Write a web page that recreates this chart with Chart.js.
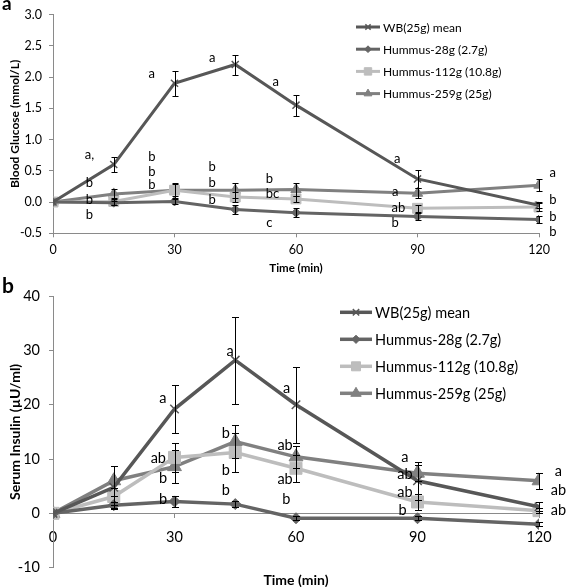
<!DOCTYPE html>
<html>
<head>
<meta charset="utf-8">
<script src="https://cdn.jsdelivr.net/npm/chart.js@4.4.0/dist/chart.umd.min.js"></script>
<style>
  body { margin: 0; background: #fff; }
  #wrap { position: relative; width: 567px; height: 587px; }
  canvas { position: absolute; left: 0; }
  #glucose { top: 0; }
  #insulin { top: 275px; }
</style>
</head>
<body>
<div id="wrap">
  <canvas id="glucose" width="567" height="275"></canvas>
  <canvas id="insulin" width="567" height="312"></canvas>
</div>
<script>
// time points (min)
const times = [0, 15, 30, 45, 60, 90, 120];
const seriesNames = ['WB(25g) mean', 'Hummus-28g (2.7g)', 'Hummus-112g (10.8g)', 'Hummus-259g (25g)'];

// a: blood glucose change (mmol/L)
const wbGlucose    = [0, 0.60, 1.90, 2.20, 1.55, 0.37, -0.05];
const h28Glucose   = [0, -0.01, 0.01, -0.12, -0.17, -0.23, -0.28];
const h112Glucose  = [0, 0.01, 0.19, 0.08, 0.05, -0.10, -0.08];
const h259Glucose  = [0, 0.13, 0.19, 0.19, 0.20, 0.14, 0.27];
const wbGluErr     = [0, 0.12, 0.20, 0.16, 0.17, 0.15, 0.05];
const h28GluErr    = [0, 0.03, 0.04, 0.07, 0.07, 0.06, 0.06];
const h112GluErr   = [0, 0.05, 0.10, 0.08, 0.05, 0.06, 0.07];
const h259GluErr   = [0, 0.08, 0.12, 0.12, 0.10, 0.08, 0.10];

// b: serum insulin change (µU/ml)
const wbInsulin    = [0, 4.8, 19.2, 28.2, 20.0, 6.0, 1.2];
const h28Insulin   = [0, 1.5, 2.2, 1.7, -0.9, -0.9, -2.0];
const h112Insulin  = [0, 3.1, 10.3, 11.2, 8.3, 2.1, 0.5];
const h259Insulin  = [0, 6.0, 8.6, 13.2, 10.4, 7.4, 6.0];
const wbInsErr     = [0, 4.0, 4.5, 8.0, 7.0, 3.5, 0.8];
const h28InsErr    = [0, 0.5, 1.0, 0.5, 0.4, 0.4, 0.4];
const h112InsErr   = [0, 1.5, 2.7, 3.5, 2.5, 1.5, 0.5];
const h259InsErr   = [0, 2.8, 3.0, 3.0, 2.0, 1.5, 1.5];

// significance letters: [time, value, text]
const glucoseLetters = [
  [9, 0.76, 'a,'], [9, 0.30, 'b'], [9, 0.04, 'b'], [9, -0.21, 'b'],
  [24.4, 2.05, 'a'], [24.4, 0.72, 'b'], [24.4, 0.49, 'b'], [24.4, 0.28, 'b'],
  [39.3, 2.30, 'a'], [39.3, 0.57, 'b'], [39.3, 0.30, 'b'], [39.3, 0.04, 'b'],
  [55, 1.92, 'a'], [53.4, 0.37, 'b'], [54.2, 0.13, 'bc'], [53.4, -0.33, 'c'],
  [85, 0.69, 'a'], [84.5, 0.17, 'a'], [85.3, -0.09, 'ab'], [84.5, -0.33, 'b'],
  [123.4, 0.46, 'a'], [123.4, 0.03, 'b'], [123.4, -0.24, 'b'], [123.4, -0.48, 'b']
];
const insulinLetters = [
  [27.1, 21.2, 'a'], [26, 10.1, 'ab'], [27.2, 6.4, 'b'], [27.2, 2.6, 'b'],
  [43.7, 29.8, 'a'], [42.7, 14.7, 'b'], [42.7, 8.0, 'b'], [42.7, 4.3, 'b'],
  [57.7, 23.0, 'a'], [57.3, 12.6, 'ab'], [57.3, 6.3, 'ab'], [57.6, 2.6, 'b'],
  [86.9, 10.3, 'a'], [86.9, 7.2, 'ab'], [86.9, 3.8, 'ab'], [86.3, 0.5, 'b'],
  [124.8, 7.8, 'a'], [124.8, 4.2, 'ab'], [124.8, 0.5, 'ab']
];

const seriesColors = ['#575757', '#646464', '#bdbdbd', '#808080'];
const seriesMarkers = ['crossRot', 'rectRot', 'rect', 'triangle'];
const axisColor = '#8a8a8a';
const fontFamily = 'Lato, "Liberation Sans", sans-serif';

function makeSets(values, errors, radii, lineWidth) {
  return seriesNames.map((name, i) => ({
    label: name,
    data: times.map((t, j) => ({ x: t, y: values[i][j] })),
    errors: errors[i],
    borderColor: seriesColors[i],
    backgroundColor: seriesColors[i],
    pointBackgroundColor: seriesColors[i],
    pointBorderColor: seriesColors[i],
    pointStyle: seriesMarkers[i],
    pointRadius: radii[i],
    pointBorderWidth: i === 0 ? 1.5 : 1,
    borderWidth: lineWidth,
    tension: 0
  }));
}

const errorBars = {
  id: 'errorBars',
  afterDatasetsDraw(chart, args, opts) {
    const { ctx, scales: { x, y } } = chart;
    ctx.save();
    ctx.strokeStyle = '#000';
    ctx.lineWidth = 1;
    chart.data.datasets.forEach(ds => {
      ds.data.forEach((p, j) => {
        const e = ds.errors[j];
        if (!e) return;
        const px = Math.round(x.getPixelForValue(p.x)) + 0.5;
        const top = Math.round(y.getPixelForValue(p.y + e)) + 0.5;
        const bot = Math.round(y.getPixelForValue(p.y - e)) + 0.5;
        ctx.beginPath();
        ctx.moveTo(px, top); ctx.lineTo(px, bot);
        ctx.moveTo(px - opts.cap, top); ctx.lineTo(px + opts.cap, top);
        ctx.moveTo(px - opts.cap, bot); ctx.lineTo(px + opts.cap, bot);
        ctx.stroke();
      });
    });
    ctx.restore();
  }
};

const letters = {
  id: 'letters',
  afterDraw(chart, args, opts) {
    const { ctx, scales: { x, y } } = chart;
    ctx.save();
    ctx.fillStyle = '#000';
    ctx.font = opts.size + 'px ' + fontFamily;
    ctx.textAlign = 'center';
    ctx.textBaseline = 'middle';
    opts.items.forEach(([t, v, s]) => ctx.fillText(s, x.getPixelForValue(t), y.getPixelForValue(v)));
    ctx.restore();
  }
};

const lineLegend = {
  id: 'lineLegend',
  afterDraw(chart, args, opts) {
    const ctx = chart.ctx;
    ctx.save();
    ctx.textBaseline = 'middle';
    ctx.textAlign = 'left';
    chart.data.datasets.forEach((ds, i) => {
      const y = opts.y + i * opts.gap;
      ctx.strokeStyle = ds.borderColor;
      ctx.lineWidth = ds.borderWidth;
      ctx.beginPath();
      ctx.moveTo(opts.x, y);
      ctx.lineTo(opts.x + opts.len, y);
      ctx.stroke();
      ctx.fillStyle = ds.pointBackgroundColor;
      ctx.strokeStyle = ds.pointBorderColor;
      ctx.lineWidth = ds.pointBorderWidth;
      Chart.helpers.drawPoint(ctx, {
        pointStyle: ds.pointStyle, radius: ds.pointRadius * 0.75, borderWidth: ds.pointBorderWidth, rotation: 0
      }, opts.x + opts.len / 2, y);
      ctx.fillStyle = '#000';
      ctx.font = opts.size + 'px ' + fontFamily;
      ctx.fillText(ds.label, opts.x + opts.len + 3, y + 1);
    });
    ctx.restore();
  }
};

const panelText = {
  id: 'panelText',
  afterDraw(chart, args, opts) {
    const { ctx, chartArea } = chart;
    ctx.save();
    ctx.fillStyle = '#000';
    ctx.font = 'bold ' + opts.titleSize + 'px ' + fontFamily;
    ctx.textAlign = 'center';
    ctx.textBaseline = 'middle';
    ctx.fillText(opts.title, (chartArea.left + chartArea.right) / 2, opts.titleY);
    ctx.font = 'bold ' + opts.letterSize + 'px ' + fontFamily;
    ctx.textAlign = 'left';
    ctx.textBaseline = 'alphabetic';
    ctx.fillText(opts.letter, opts.letterX, opts.letterY);
    ctx.restore();
  }
};

function axisGrid() {
  return { display: true, drawOnChartArea: false, drawTicks: true, tickLength: 4, color: axisColor };
}

new Chart(document.getElementById('glucose'), {
  type: 'line',
  data: {
    datasets: makeSets(
      [wbGlucose, h28Glucose, h112Glucose, h259Glucose],
      [wbGluErr, h28GluErr, h112GluErr, h259GluErr],
      [5, 4.5, 7, 6], 3)
  },
  options: {
    responsive: false,
    animation: false,
    events: [],
    layout: { padding: { left: 0, right: 28, top: 13.3, bottom: 0 } },
    scales: {
      x: {
        type: 'linear', min: 0, max: 120,
        afterFit: s => { s.height = 41.7; },
        grid: axisGrid(),
        border: { color: axisColor },
        ticks: { stepSize: 30, padding: 5, color: '#000', font: { family: fontFamily, size: 12.5 } }
      },
      y: {
        min: -0.5, max: 3,
        afterFit: s => { s.width = 53; },
        grid: axisGrid(),
        border: { color: axisColor },
        ticks: { stepSize: 0.5, padding: 7, color: '#000', font: { family: fontFamily, size: 12.5 },
          callback: v => v.toFixed(1) },
        title: { display: true, text: 'Blood Glucose (mmol/L)', color: '#000', padding: { top: 8 },
          font: { family: fontFamily, size: 12, weight: 'bold' } }
      }
    },
    plugins: {
      legend: { display: false },
      tooltip: { enabled: false },
      errorBars: { cap: 3 },
      letters: { items: glucoseLetters, size: 13 },
      lineLegend: { x: 356, y: 27, gap: 22.2, len: 24, size: 12 },
      panelText: { title: 'Time (min)', titleY: 268, titleSize: 11.5, letter: 'a', letterX: 2, letterY: 10, letterSize: 19 }
    }
  },
  plugins: [errorBars, letters, lineLegend, panelText]
});

new Chart(document.getElementById('insulin'), {
  type: 'line',
  data: {
    datasets: makeSets(
      [wbInsulin, h28Insulin, h112Insulin, h259Insulin],
      [wbInsErr, h28InsErr, h112InsErr, h259InsErr],
      [6, 5.5, 8.5, 8], 3.5)
  },
  options: {
    responsive: false,
    animation: false,
    events: [],
    layout: { padding: { left: 0, right: 28, top: 21, bottom: 19.3 } },
    scales: {
      x: {
        type: 'linear', min: 0, max: 120,
        position: { y: 0 },
        grid: axisGrid(),
        border: { color: axisColor },
        ticks: { stepSize: 30, padding: 11, color: '#000', font: { family: fontFamily, size: 14.5 } }
      },
      y: {
        min: -10, max: 40,
        afterFit: s => { s.width = 53; },
        grid: axisGrid(),
        border: { color: axisColor },
        ticks: { stepSize: 10, padding: 9, color: '#000', font: { family: fontFamily, size: 14.5 } },
        title: { display: true, text: 'Serum Insulin (µU/ml)', color: '#000', padding: { top: 7 },
          font: { family: fontFamily, size: 14, weight: 'bold' } }
      }
    },
    plugins: {
      legend: { display: false },
      tooltip: { enabled: false },
      errorBars: { cap: 3.5 },
      letters: { items: insulinLetters, size: 14.5 },
      lineLegend: { x: 340, y: 37.3, gap: 27, len: 32, size: 14.5 },
      panelText: { title: 'Time (min)', titleY: 305, titleSize: 14, letter: 'b', letterX: 2, letterY: 18, letterSize: 21 }
    }
  },
  plugins: [errorBars, letters, lineLegend, panelText]
});
</script>
</body>
</html>
